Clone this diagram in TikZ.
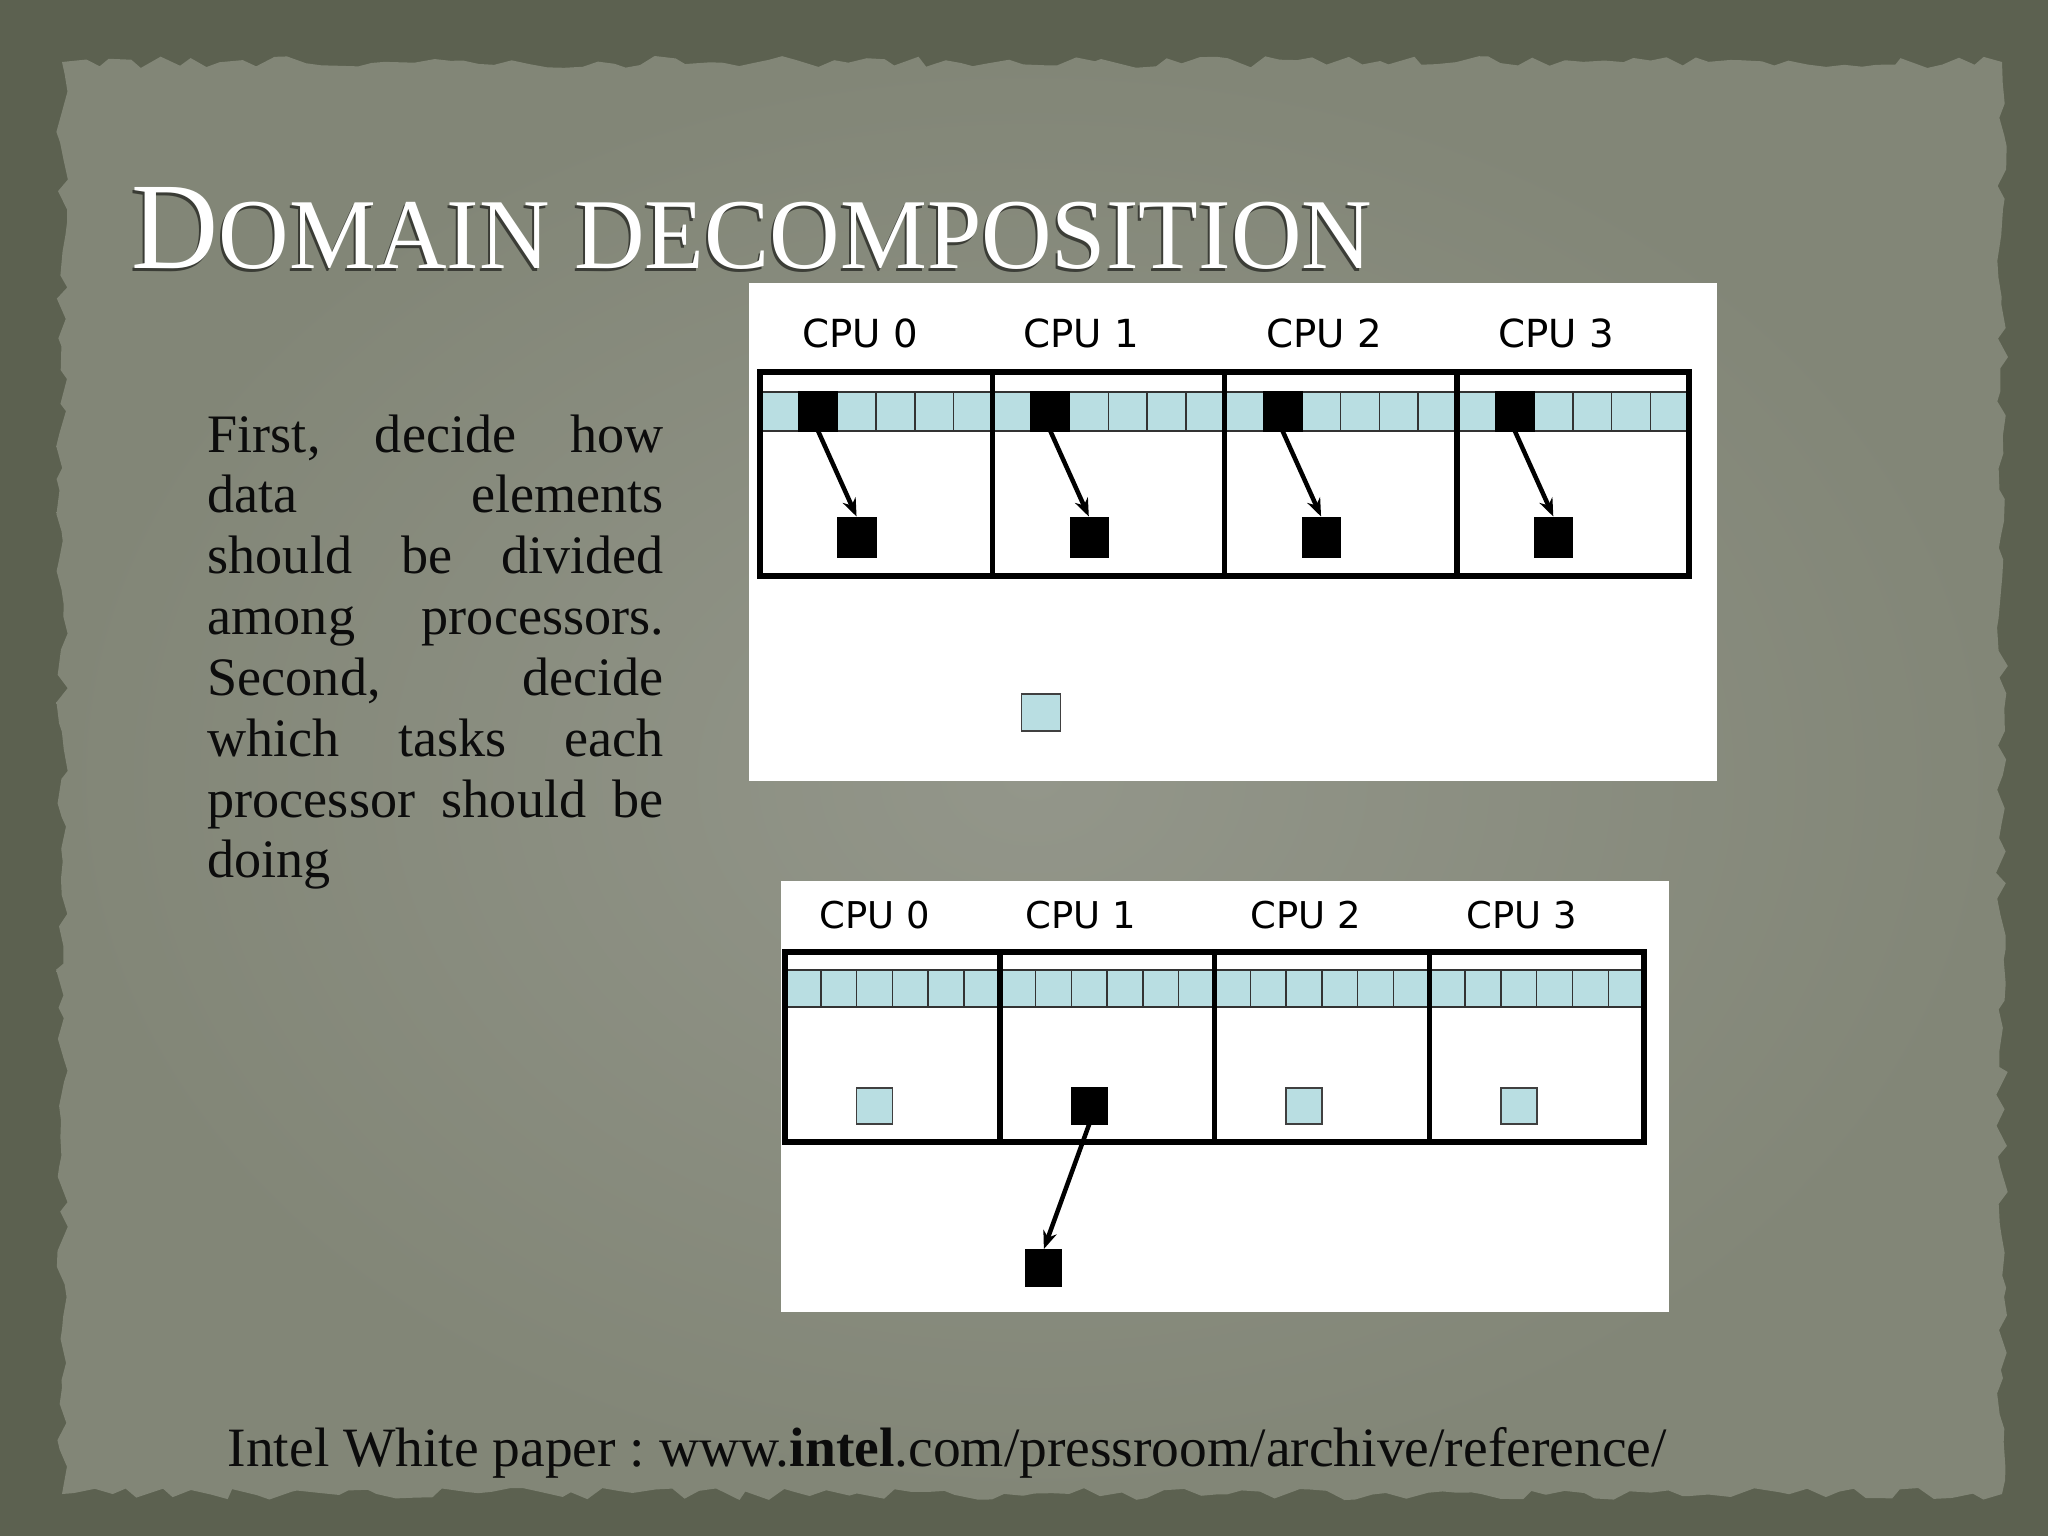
\documentclass[tikz,border=0pt]{standalone}
\usepackage{graphicx}
\usepackage{fontspec}
\setmainfont{Liberation Serif}
\newfontfamily\cpufont{DejaVu Sans}
\usetikzlibrary{arrows.meta,decorations.pathmorphing}
\frenchspacing
\definecolor{frameclr}{RGB}{92,97,80}
\definecolor{paperclr}{RGB}{130,134,119}
\definecolor{paperlight}{RGB}{147,150,138}
\definecolor{cellblue}{RGB}{185,222,226}
\definecolor{txt}{RGB}{12,12,12}
\begin{document}
\begin{tikzpicture}[x=0.01cm,y=-0.01cm,
  cpulabel/.style={font=\cpufont\fontsize{11pt}{13pt}\selectfont, inner sep=0pt, text=black},
  cpulabelb/.style={font=\cpufont\fontsize{10.5pt}{12pt}\selectfont, inner sep=0pt, text=black},
  panel/.style={fill=white, draw=none},
  strip/.style={fill=cellblue, draw=black!80, line width=0.4pt},
  gridline/.style={draw=black!80, line width=0.4pt},
  thickbox/.style={draw=black, line width=0.055cm},
  blkcell/.style={fill=black, draw=black, line width=0.3pt, inner sep=0pt, outer sep=0pt, minimum width=0.388cm, minimum height=0.39cm},
  blksq/.style={fill=black, draw=black, line width=0.3pt, inner sep=0pt, outer sep=0pt, minimum width=0.38cm, minimum height=0.40cm},
  blksqb/.style={fill=black, draw=black, line width=0.3pt, inner sep=0pt, outer sep=0pt, minimum width=0.36cm, minimum height=0.36cm},
  bluesq/.style={fill=cellblue, draw=black!75, line width=0.5pt, inner sep=0pt, outer sep=0pt, minimum width=0.39cm, minimum height=0.37cm},
  bluesqb/.style={fill=cellblue, draw=black!75, line width=0.5pt, inner sep=0pt, outer sep=0pt, minimum width=0.36cm, minimum height=0.36cm},
  arr/.style={draw=black, line width=0.045cm, -{Stealth[length=0.18cm, width=0.14cm]}, shorten >=0.3pt},
]
\useasboundingbox (0,0) rectangle (2048,1536);
% background
\fill[frameclr] (0,0) rectangle (2048,1536);
\pgfmathsetseed{12}
\shade[inner color=paperlight, outer color=paperclr, decorate, decoration={random steps, segment length=1.6mm, amplitude=0.6mm}]
  (62,62) rectangle (2002,1494);

% title
\node[anchor=base west, inner sep=0pt, text=black, opacity=0.55] (titleshadow) at (129,271)
  {\resizebox{12.4cm}{0.81cm}{\fontsize{40pt}{40pt}\selectfont D\fontsize{32.4pt}{32pt}\selectfont OMAIN DECOMPOSITION}};
\node[anchor=base west, inner sep=0pt, text=white] (title) at (131,268)
  {\resizebox{12.4cm}{0.81cm}{\fontsize{40pt}{40pt}\selectfont D\fontsize{32.4pt}{32pt}\selectfont OMAIN DECOMPOSITION}};

% body text
\node[anchor=base west, inner sep=0pt, text width=4.56cm, align=left, text=txt,
      font=\fontsize{15.4pt}{17.3pt}\selectfont] (body) at (207,452)
  {First,\hfill decide\hfill how\\
   data\hfill elements\\
   should\hfill be\hfill divided\\
   among\hfill processors.\\
   Second,\hfill decide\\
   which\hfill tasks\hfill each\\
   processor\hfill should\hfill be\\
   doing};

% footer
\node[anchor=base west, inner sep=0pt, text=txt] (footer) at (227,1466)
  {\resizebox{14.38cm}{!}{\fontsize{15pt}{18pt}\selectfont Intel White paper : www.\textbf{intel}.com/pressroom/archive/reference/}};

% ================= top diagram =================
\fill[panel] (749,283) rectangle (1717,781);
\node[cpulabel] (tl0) at (860,333) {CPU 0};
\node[cpulabel] (tl1) at (1081,333) {CPU 1};
\node[cpulabel] (tl2) at (1324,333) {CPU 2};
\node[cpulabel] (tl3) at (1556,333) {CPU 3};
\draw[strip] (760,392) rectangle (1689,431);
\foreach \q in {0,...,3} {
  \pgfmathsetmacro\L{760+232.25*\q}
  \foreach \i in {1,...,5} {
    \draw[gridline] (\L+38.71*\i,392) -- (\L+38.71*\i,431);
  }
  \node[blkcell] (tb\q) at (\L+58.1,411.5) {};
  \node[blksq] (ts\q) at (\L+97,537.5) {};
  \draw[arr] (tb\q.south) -- (ts\q.north);
}
\draw[thickbox] (760,372) rectangle (1689,576);
\foreach \q in {1,2,3} {
  \draw[thickbox] (760+232.25*\q,372) -- (760+232.25*\q,576);
}
\node[bluesq] (tlone) at (1041,712.5) {};

% ================= bottom diagram =================
\fill[panel] (781,881) rectangle (1669,1312);
\node[cpulabelb] (bl0) at (875,915) {CPU 0};
\node[cpulabelb] (bl1) at (1081,915) {CPU 1};
\node[cpulabelb] (bl2) at (1306,915) {CPU 2};
\node[cpulabelb] (bl3) at (1522,915) {CPU 3};
\draw[strip] (785,970) rectangle (1644,1007);
\foreach \q in {0,...,3} {
  \pgfmathsetmacro\L{785+214.75*\q}
  \foreach \i in {1,...,5} {
    \draw[gridline] (\L+35.79*\i,970) -- (\L+35.79*\i,1007);
  }
}
\node[bluesqb] (bs0) at (785+89.5,1106) {};
\node[blksqb] (bs1) at (785+214.75+89.5,1106) {};
\node[bluesqb] (bs2) at (785+429.5+89.5,1106) {};
\node[bluesqb] (bs3) at (785+644.25+89.5,1106) {};
\draw[thickbox] (785,952) rectangle (1644,1142);
\foreach \q in {1,2,3} {
  \draw[thickbox] (785+214.75*\q,952) -- (785+214.75*\q,1142);
}
\node[blksqb] (blow) at (1043.5,1268) {};
\draw[arr] (bs1.south) -- (blow.north);
\end{tikzpicture}
\end{document}
